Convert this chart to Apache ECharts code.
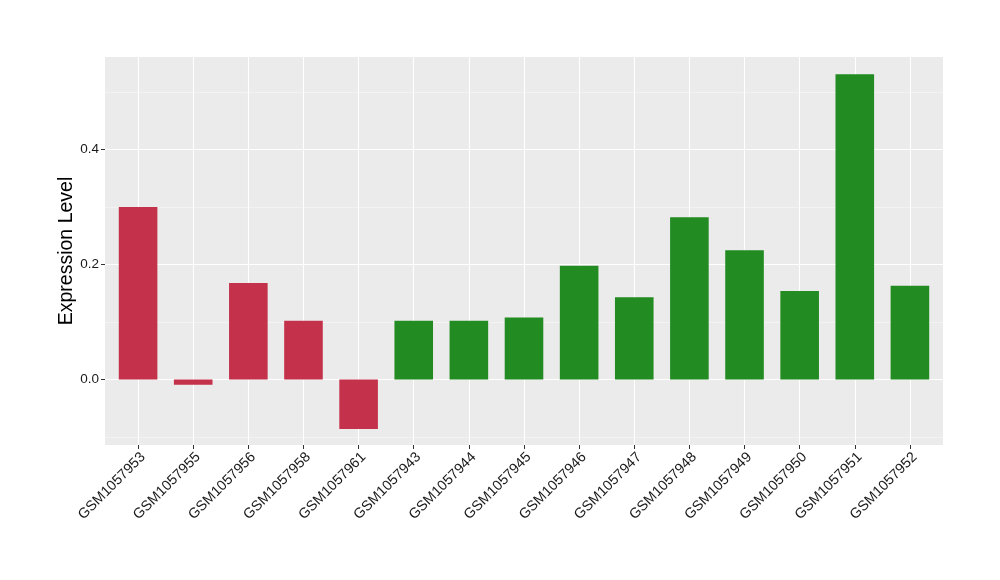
<!DOCTYPE html>
<html>
<head>
<meta charset="utf-8">
<script src="https://cdn.jsdelivr.net/npm/echarts@6/dist/echarts.min.js"></script>
<style>html,body{margin:0;padding:0;background:#fff}#c{width:1000px;height:580px}</style>
</head>
<body>
<div id="c"></div>
<script>
const categories = ["GSM1057953","GSM1057955","GSM1057956","GSM1057958","GSM1057961","GSM1057943","GSM1057944","GSM1057945","GSM1057946","GSM1057947","GSM1057948","GSM1057949","GSM1057950","GSM1057951","GSM1057952"];
const values = [0.300, -0.009, 0.168, 0.102, -0.086, 0.102, 0.102, 0.108, 0.198, 0.143, 0.282, 0.225, 0.154, 0.531, 0.163];
const groups = ["red","red","red","red","red","green","green","green","green","green","green","green","green","green","green"];
const groupColors = {red: "#C4314B", green: "#228B22"};
const yMajorTicks = [0, 0.2, 0.4];
const yMinorTicks = [-0.1, 0.1, 0.3, 0.5];
const yRange = [-0.114, 0.561];
const yTitle = "Expression Level";

const font = "'Liberation Sans', Arial, sans-serif";
const catIdx = categories.map((c, i) => i);
// panel geometry (ggplot-like discrete expansion of 0.6 category units on both sides)
const panel = {left: 105, right: 57, top: 57, bottom: 135};
const panelW = 1000 - panel.left - panel.right;
const expand = 0.6;
const unit = panelW / (categories.length - 1 + 2 * expand);
const inset = unit * (expand - 0.5);

const chart = echarts.init(document.getElementById('c'));
chart.setOption({
  animation: false,
  backgroundColor: '#ffffff',
  grid: [
    {left: panel.left, right: panel.right, top: panel.top, bottom: panel.bottom, show: true, backgroundColor: '#EBEBEB', borderWidth: 0},
    {left: panel.left + inset, right: panel.right + inset, top: panel.top, bottom: panel.bottom, show: false}
  ],
  xAxis: [
    {
      gridIndex: 0, type: 'value', min: -expand, max: categories.length - 1 + expand,
      axisLine: {show: false, onZero: false},
      axisTick: {show: false, customValues: catIdx},
      axisLabel: {show: false, customValues: catIdx},
      splitLine: {show: true, lineStyle: {color: '#FFFFFF', width: 1.1}}
    },
    {
      gridIndex: 1, type: 'category', data: categories, boundaryGap: true,
      axisLine: {show: false, onZero: false},
      axisTick: {show: true, alignWithLabel: true, length: 4, lineStyle: {color: '#333333', width: 1}},
      splitLine: {show: false},
      axisLabel: {rotate: 45, fontSize: 14.3, color: '#1A1A1A', fontFamily: font, margin: 5, interval: 0, verticalAlign: 'top'}
    }
  ],
  yAxis: [
    {
      gridIndex: 0, type: 'value', min: yRange[0], max: yRange[1],
      name: yTitle, nameLocation: 'middle', nameGap: 28, nameMoveOverlap: false,
      nameTextStyle: {fontSize: 19.5, color: '#000000', fontFamily: font},
      axisLine: {show: false, onZero: false},
      axisTick: {show: true, length: 4, lineStyle: {color: '#333333'}, customValues: yMajorTicks},
      axisLabel: {
        fontSize: 13.5, color: '#1A1A1A', fontFamily: font, margin: 6,
        customValues: yMajorTicks,
        formatter: function (v) { return v.toFixed(1); }
      },
      splitLine: {show: true, lineStyle: {color: '#FFFFFF', width: 1.1}},
      z: 1
    },
    {
      gridIndex: 0, type: 'value', min: yRange[0], max: yRange[1],
      axisLine: {show: false, onZero: false},
      axisTick: {show: false, customValues: yMinorTicks},
      axisLabel: {show: false, customValues: yMinorTicks},
      splitLine: {show: true, lineStyle: {color: '#F6F6F6', width: 0.7}}
    },
    {
      gridIndex: 1, type: 'value', min: yRange[0], max: yRange[1], show: false,
      axisLine: {onZero: false}, splitLine: {show: false}
    }
  ],
  series: [{
    type: 'bar', xAxisIndex: 1, yAxisIndex: 2, barWidth: '70%',
    data: values.map((v, i) => ({value: v, itemStyle: {color: groupColors[groups[i]]}}))
  }]
});
</script>
</body>
</html>
